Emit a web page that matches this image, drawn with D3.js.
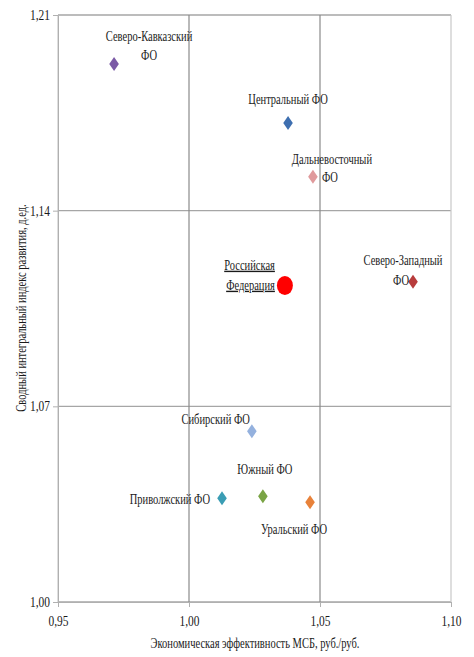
<!DOCTYPE html>
<html>
<head>
  <meta charset="utf-8">
  <title>МСБ и индекс развития</title>
  <script src="https://d3js.org/d3.v7.min.js"></script>
  <style>
    body { margin: 0; background: #fff; }
    svg text { font-family: "Liberation Serif", "Times New Roman", serif; fill: #1a1a1a; }
  </style>
</head>
<body>
<svg id="chart" width="474" height="657"></svg>
<script>
// data
var regions = ["Северо-Кавказский ФО", "Центральный ФО", "Дальневосточный ФО", "Российская Федерация",
               "Северо-Западный ФО", "Сибирский ФО", "Приволжский ФО", "Южный ФО", "Уральский ФО"];
var efficiency = [0.9714, 1.0378, 1.0473, 1.0366, 1.0855, 1.0240, 1.0126, 1.0282, 1.0462];
var devIndex   = [1.1925, 1.1714, 1.1521, 1.1132, 1.1146, 1.0611, 1.0371, 1.0378, 1.0357];
var colors = ["#7b5aa6", "#3e6fb0", "#e09a9c", "#ff0000", "#b83c3c", "#94b1de", "#3a9db4", "#7aa445", "#e8823a"];
var xTicks = [0.95, 1.00, 1.05, 1.10];
var yTicks = [1.00, 1.07, 1.14, 1.21];

// label lines and where they sit relative to the point
var labelLines = [["Северо-Кавказский", "ФО"], ["Центральный ФО"], ["Дальневосточный", "ФО"], ["Российская", "Федерация"],
                  ["Северо-Западный", "ФО"], ["Сибирский ФО"], ["Приволжский ФО"], ["Южный ФО"], ["Уральский ФО"]];
var labelPos = [
  {dx: 35, dy: -23, anchor: "middle", shift: [0, 0], gap: 19},
  {dx: 0, dy: -19, anchor: "middle", shift: [0], gap: 0},
  {dx: 19, dy: -13, anchor: "middle", shift: [0, -2], gap: 18},
  {dx: -10, dy: -16, anchor: "end", shift: [0, 0], gap: 20},
  {dx: -10, dy: -17, anchor: "middle", shift: [0, -2], gap: 20},
  {dx: -2, dy: -7, anchor: "end", shift: [0], gap: 0},
  {dx: -12, dy: 6, anchor: "end", shift: [0], gap: 0},
  {dx: 2, dy: -22, anchor: "middle", shift: [0], gap: 0},
  {dx: -16, dy: 32, anchor: "middle", shift: [0], gap: 0}
];

var margin = {top: 15, right: 23, bottom: 55, left: 58},
    width = 474 - margin.left - margin.right,
    height = 657 - margin.top - margin.bottom;

var x = d3.scaleLinear().domain([0.95, 1.10]).range([0, width]);
var y = d3.scaleLinear().domain([1.00, 1.21]).range([height, 0]);
var fmt = function(d) { return d3.format(".2f")(d).replace(".", ","); };
var squeeze = 0.75;

var svg = d3.select("#chart");
var g = svg.append("g").attr("transform", "translate(" + margin.left + "," + margin.top + ")");

// grid lines
g.selectAll(".hgrid").data(yTicks).enter().append("line")
  .attr("x1", 0).attr("x2", width)
  .attr("y1", function(d) { return y(d); }).attr("y2", function(d) { return y(d); })
  .attr("stroke", "#a6a6a6").attr("stroke-width", 1.3);
g.selectAll(".vgrid").data(xTicks).enter().append("line")
  .attr("y1", 0).attr("y2", height)
  .attr("x1", function(d) { return x(d); }).attr("x2", function(d) { return x(d); })
  .attr("stroke", function(d, i) { return (i == 0 || i == xTicks.length - 1) ? "#c8c8c8" : "#8a8a8a"; })
  .attr("stroke-width", 1.2);

// axes
var yAxis = g.append("g")
  .call(d3.axisLeft(y).tickValues(yTicks).tickFormat(fmt).tickSize(5).tickPadding(3));
var xAxis = g.append("g").attr("transform", "translate(0," + height + ")")
  .call(d3.axisBottom(x).tickValues(xTicks).tickFormat(fmt).tickSize(5).tickPadding(9));
[xAxis, yAxis].forEach(function(a) {
  a.attr("font-family", null);
  a.select(".domain").attr("stroke", "#b0b0b0");
  a.selectAll(".tick line").attr("stroke", "#b0b0b0");
  a.selectAll(".tick text").attr("font-size", 14).attr("fill", "#333")
    .attr("textLength", 20).attr("lengthAdjust", "spacingAndGlyphs");
});

// markers: diamonds for districts, a red blob for Russia
var pts = regions.map(function(r, i) {
  return {name: r, ex: efficiency[i], ix: devIndex[i], color: colors[i], lines: labelLines[i], pos: labelPos[i]};
});
var diamond = "M0,-7L4.8,0L0,7L-4.8,0Z";
pts.forEach(function(d) {
  if (d.name == "Российская Федерация") {
    g.append("ellipse").attr("cx", x(d.ex)).attr("cy", y(d.ix)).attr("rx", 8).attr("ry", 9.5).attr("fill", d.color);
  } else {
    g.append("path").attr("d", diamond)
      .attr("transform", "translate(" + x(d.ex) + "," + y(d.ix) + ")")
      .attr("fill", d.color);
  }
});

// labels
pts.forEach(function(d) {
  var px = x(d.ex) + d.pos.dx, py = y(d.ix) + d.pos.dy;
  d.lines.forEach(function(line, k) {
    var t = g.append("text")
      .attr("transform", "translate(" + (px + d.pos.shift[k]) + "," + (py + k * d.pos.gap) + ") scale(" + squeeze + ",1)")
      .attr("text-anchor", d.pos.anchor)
      .attr("font-size", 14)
      .text(line);
    if (d.name == "Российская Федерация") t.attr("text-decoration", "underline");
  });
});

// axis titles
svg.append("text")
  .attr("transform", "translate(255,648) scale(" + squeeze + ",1)")
  .attr("text-anchor", "middle").attr("font-size", 14)
  .text("Экономическая эффективность МСБ, руб./руб.");
svg.append("text")
  .attr("transform", "translate(26,308) rotate(-90) scale(" + squeeze + ",1)")
  .attr("text-anchor", "middle").attr("font-size", 14)
  .text("Сводный интегральный индекс развития, д.ед.");
</script>
</body>
</html>
